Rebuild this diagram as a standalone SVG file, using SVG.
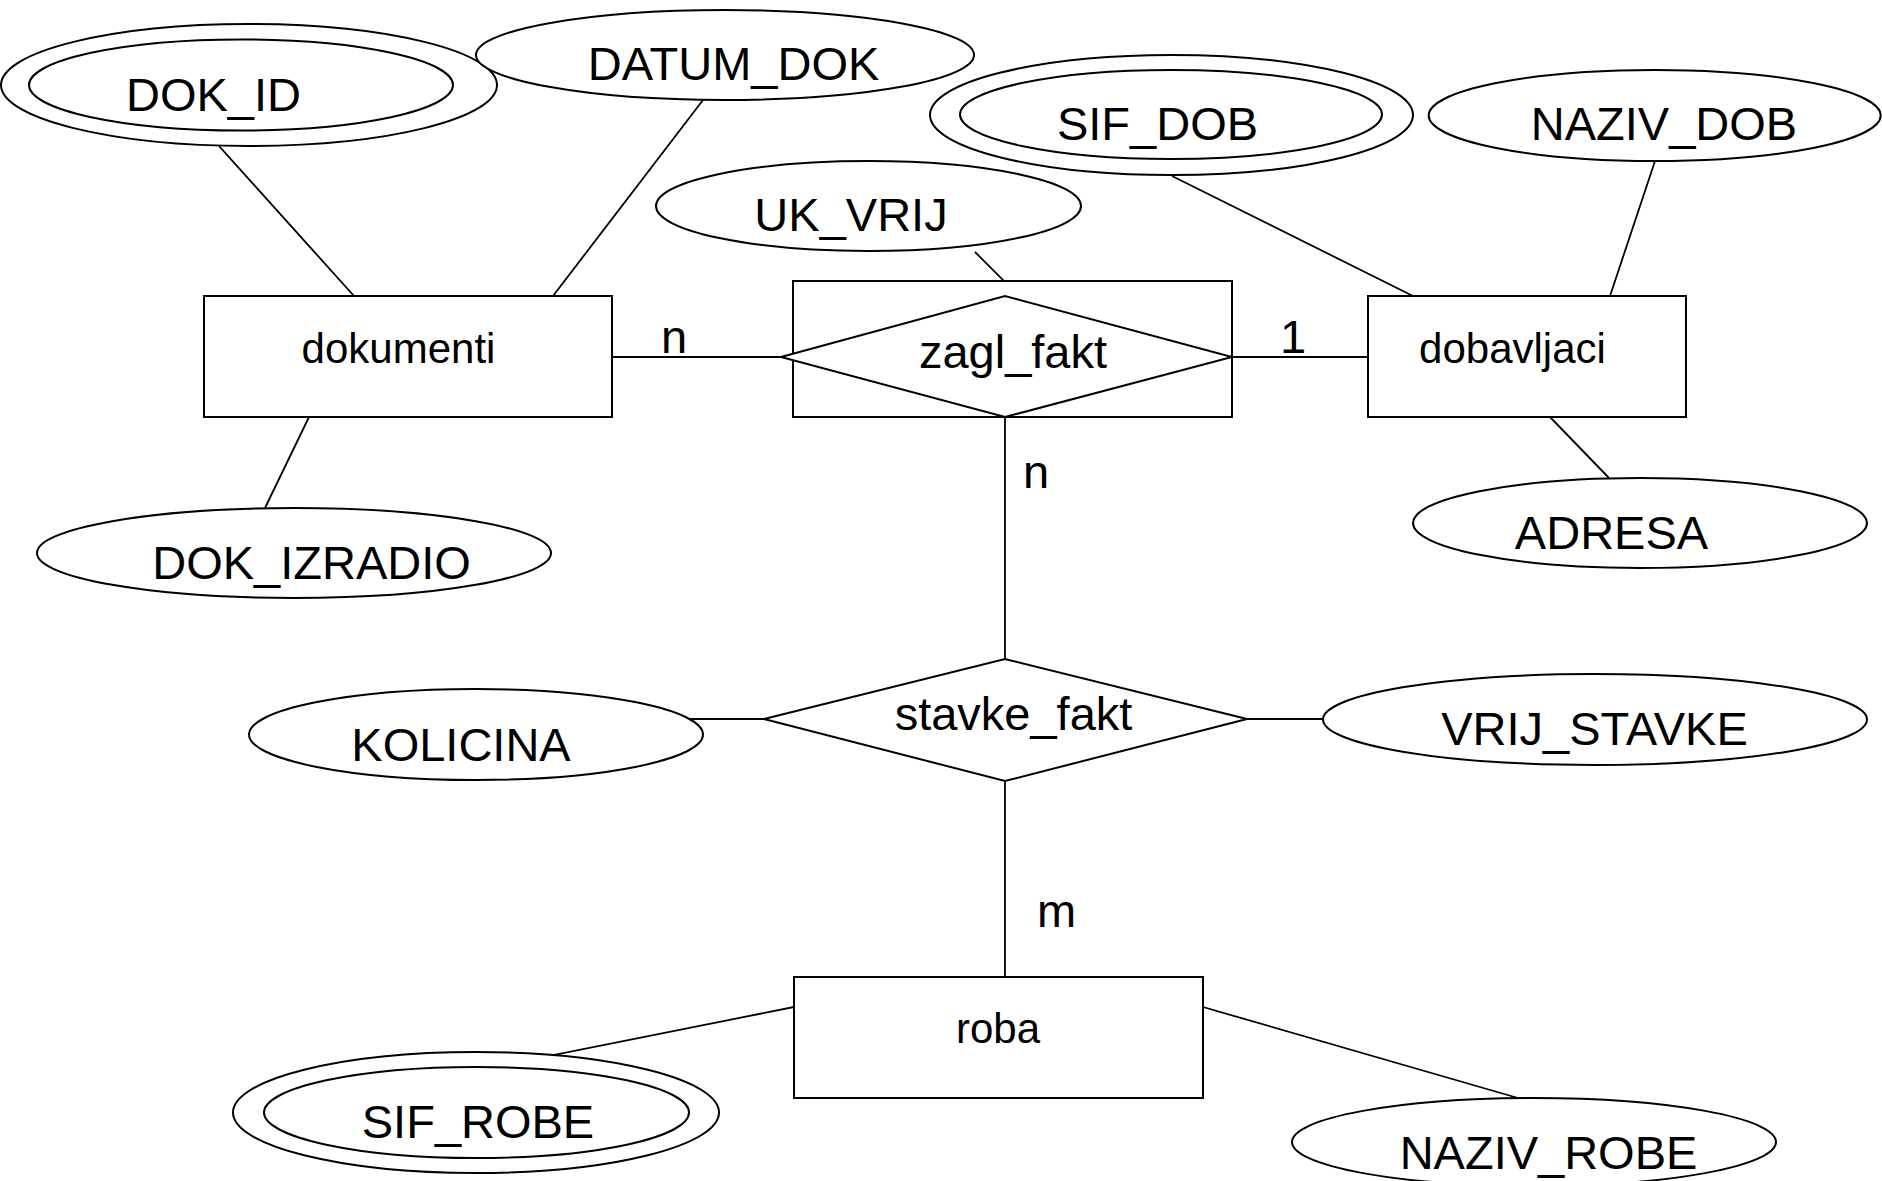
<svg xmlns="http://www.w3.org/2000/svg" width="1882" height="1181" viewBox="0 0 1882 1181">
<style>
.shape{fill:#fff;stroke:#000;stroke-width:2}
.ln{stroke:#000;stroke-width:1.8;fill:none}
.attr{font-family:"Liberation Sans",Arial,sans-serif;font-size:47px;text-anchor:middle;fill:#000}
.ent{font-family:"Liberation Sans",Arial,sans-serif;font-size:42px;text-anchor:middle;fill:#000}
.card{font-family:"Liberation Sans",Arial,sans-serif;font-size:47px;fill:#000}
</style>
<rect width="1882" height="1181" fill="#fff"/>
<g id="connectors">
<line class="ln" x1="219" y1="146" x2="354" y2="296"/>
<line class="ln" x1="703" y1="100" x2="553" y2="296"/>
<line class="ln" x1="612" y1="357" x2="781" y2="357"/>
<line class="ln" x1="975" y1="252" x2="1020" y2="297"/>
<line class="ln" x1="1232" y1="357" x2="1368" y2="357"/>
<line class="ln" x1="1172" y1="176" x2="1413" y2="296"/>
<line class="ln" x1="1655" y1="161" x2="1610" y2="296"/>
<line class="ln" x1="1550" y1="417" x2="1609" y2="478"/>
<line class="ln" x1="309" y1="417" x2="265" y2="508"/>
<line class="ln" x1="1005" y1="417" x2="1005" y2="659"/>
<line class="ln" x1="689" y1="719" x2="764" y2="719"/>
<line class="ln" x1="1247" y1="719" x2="1323" y2="719"/>
<line class="ln" x1="1005" y1="781" x2="1005" y2="977"/>
<line class="ln" x1="794" y1="1007" x2="494" y2="1067"/>
<line class="ln" x1="1203" y1="1007" x2="1518" y2="1098"/>
<text class="card" x="661" y="353">n</text>
<text class="card" x="1280" y="353">1</text>
<text class="card" x="1023" y="488">n</text>
<text class="card" x="1037" y="927">m</text>
</g>
<g id="dokumenti">
<rect class="shape" x="204" y="296" width="408" height="121"/>
<text class="ent" x="398.5" y="363">dokumenti</text>
</g>
<g id="DOK_ID">
<ellipse class="shape" cx="249" cy="85" rx="248" ry="61"/>
<ellipse class="shape" cx="241" cy="85" rx="212" ry="45.5"/>
<text class="attr" x="213.5" y="111">DOK_ID</text>
</g>
<g id="DATUM_DOK">
<ellipse class="shape" cx="725" cy="55" rx="249" ry="45"/>
<text class="attr" x="733.5" y="80">DATUM_DOK</text>
</g>
<g id="DOK_IZRADIO">
<ellipse class="shape" cx="294" cy="553" rx="257" ry="45"/>
<text class="attr" x="311.5" y="579">DOK_IZRADIO</text>
</g>
<g id="zagl_fakt">
<rect class="shape" x="793" y="281" width="439" height="136"/>
<polygon class="shape" points="781,357 1005,296 1232,357 1005,417"/>
<text class="attr" x="1013" y="368">zagl_fakt</text>
</g>
<g id="UK_VRIJ">
<ellipse class="shape" cx="868.5" cy="206" rx="212.5" ry="45"/>
<text class="attr" x="851" y="231">UK_VRIJ</text>
</g>
<g id="dobavljaci">
<rect class="shape" x="1368" y="296" width="318" height="121"/>
<text class="ent" x="1512.5" y="363">dobavljaci</text>
</g>
<g id="SIF_DOB">
<ellipse class="shape" cx="1171.5" cy="115" rx="241.5" ry="60"/>
<ellipse class="shape" cx="1171" cy="114.5" rx="211" ry="44.5"/>
<text class="attr" x="1157.5" y="140">SIF_DOB</text>
</g>
<g id="NAZIV_DOB">
<ellipse class="shape" cx="1654.7" cy="115.5" rx="226" ry="45.5"/>
<text class="attr" x="1664" y="140">NAZIV_DOB</text>
</g>
<g id="ADRESA">
<ellipse class="shape" cx="1640" cy="523" rx="227" ry="45"/>
<text class="attr" x="1611.5" y="549">ADRESA</text>
</g>
<g id="stavke_fakt">
<polygon class="shape" points="764,719 1005,659 1247,719 1005,781"/>
<text class="attr" x="1013.5" y="730">stavke_fakt</text>
</g>
<g id="KOLICINA">
<ellipse class="shape" cx="476" cy="734.5" rx="227" ry="45.5"/>
<text class="attr" x="461" y="761">KOLICINA</text>
</g>
<g id="VRIJ_STAVKE">
<ellipse class="shape" cx="1595" cy="719.5" rx="272" ry="45.5"/>
<text class="attr" x="1594.5" y="745">VRIJ_STAVKE</text>
</g>
<g id="roba">
<rect class="shape" x="794" y="977" width="409" height="121"/>
<text class="ent" x="998" y="1043">roba</text>
</g>
<g id="SIF_ROBE">
<ellipse class="shape" cx="476" cy="1112.5" rx="243" ry="60.5"/>
<ellipse class="shape" cx="476.5" cy="1112.5" rx="212.5" ry="45.5"/>
<text class="attr" x="478" y="1138">SIF_ROBE</text>
</g>
<g id="NAZIV_ROBE">
<ellipse class="shape" cx="1534" cy="1142" rx="242" ry="44"/>
<text class="attr" x="1548.5" y="1169">NAZIV_ROBE</text>
</g>
</svg>
